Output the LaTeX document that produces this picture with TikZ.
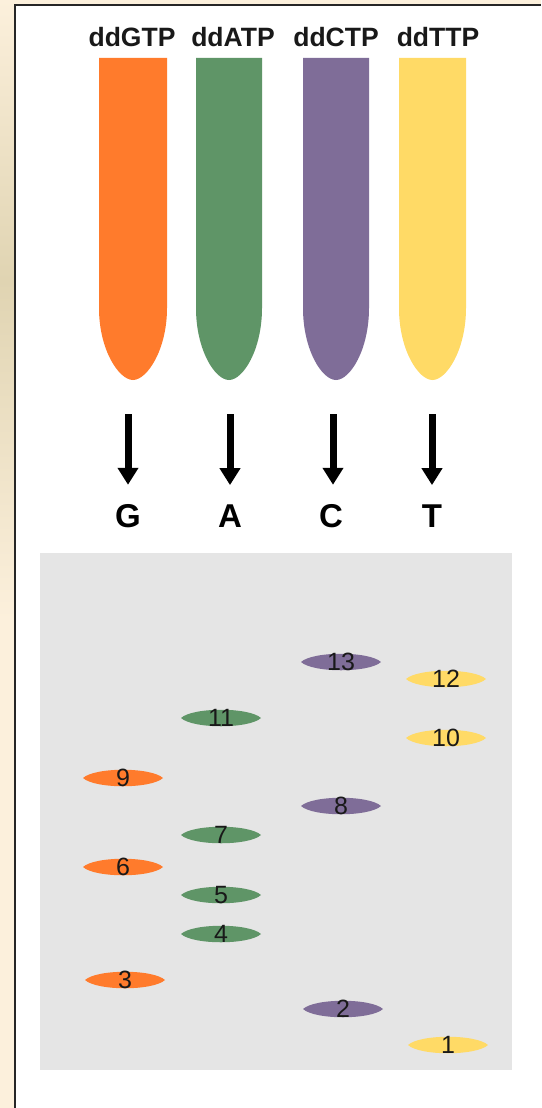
\documentclass[tikz,border=0pt]{standalone}
\usepackage{fontspec}
\setmainfont{Liberation Sans}
\usetikzlibrary{arrows.meta}
\definecolor{cream}{HTML}{FCF0DC}
\definecolor{tan}{HTML}{E0D4B2}
\definecolor{gGreen}{HTML}{5F9567}
\definecolor{gOrange}{HTML}{FF7B2C}
\definecolor{gPurple}{HTML}{7F6D98}
\definecolor{gYellow}{HTML}{FFDA66}
\definecolor{gelgray}{HTML}{E5E5E5}
\tikzset{
  tubelabel/.style={font=\bfseries\fontsize{26.5}{30}\selectfont, anchor=base, inner sep=0pt, text=black!90},
  baselabel/.style={font=\bfseries\fontsize{33}{36}\selectfont, anchor=base, inner sep=0pt},
  bandnum/.style={font=\fontsize{25}{27}\selectfont, inner sep=0pt, text=black!90},
  downarrow/.style={line width=7pt, -{Triangle[width=20pt,length=17pt]}, shorten >=19pt},
}
% a tube: straight sides with a rounded, slightly pointed bottom
\newcommand{\tubeshape}[3]{% left x, right x, colour
  \fill[#3] (#1,58) -- (#2,58) -- (#2,308)
    .. controls (#2,350) and ({(#1+#2)/2+14},380) .. ({(#1+#2)/2},380)
    .. controls ({(#1+#2)/2-14},380) and (#1,350) .. (#1,308) -- cycle;
}
% a band of the gel with its number
\newcommand{\gelband}[5]{% name, x, y, colour, number
  \fill[#4] (#2-40,#3) .. controls (#2-28,#3-11) and (#2+28,#3-11) .. (#2+40,#3)
    .. controls (#2+28,#3+11) and (#2-28,#3+11) .. cycle;
  \node[bandnum] (#1) at (#2,#3) {#5};
}
\begin{document}
\begin{tikzpicture}[x=1pt,y=-1pt]
\useasboundingbox (0,0) rectangle (541,1108);
% page background and frame
\fill[white] (0,0) rectangle (541,1108);
\shade[top color=cream, bottom color=tan] (0,0) rectangle (15,280);
\shade[top color=tan, bottom color=cream] (0,280) rectangle (15,620);
\fill[cream] (0,620) rectangle (15,1108);
\fill[cream] (0,0) rectangle (541,4.5);
\draw[line width=2pt, black!85] (15,1108) -- (15,5.5) -- (541,5.5);

% tubes
\tubeshape{99}{167}{gOrange}
\tubeshape{196}{262}{gGreen}
\tubeshape{303}{369}{gPurple}
\tubeshape{399}{466}{gYellow}

\node[tubelabel] (lG) at (132,47) {ddGTP};
\node[tubelabel] (lA) at (233,47) {ddATP};
\node[tubelabel] (lC) at (336,47) {ddCTP};
\node[tubelabel] (lT) at (438,47) {ddTTP};

% arrows to the bases
\node[baselabel] (G) at (128,527) {G};
\node[baselabel] (A) at (230,527) {A};
\node[baselabel] (C) at (331,527) {C};
\node[baselabel] (T) at (432,527) {T};
\coordinate (aG) at (128,414);
\coordinate (aA) at (230,414);
\coordinate (aC) at (333,414);
\coordinate (aT) at (432,414);
\draw[downarrow] (aG) -- (G.north -| aG);
\draw[downarrow] (aA) -- (A.north -| aA);
\draw[downarrow] (aC) -- (C.north -| aC);
\draw[downarrow] (aT) -- (T.north -| aT);

% gel
\fill[gelgray] (40,553) rectangle (512,1070);
\gelband{b13}{341}{662}{gPurple}{13}
\gelband{b12}{446}{679}{gYellow}{12}
\gelband{b11}{221}{718}{gGreen}{11}
\gelband{b10}{446}{738}{gYellow}{10}
\gelband{b9}{123}{778}{gOrange}{9}
\gelband{b8}{341}{806}{gPurple}{8}
\gelband{b7}{221}{835}{gGreen}{7}
\gelband{b6}{123}{867}{gOrange}{6}
\gelband{b5}{221}{895}{gGreen}{5}
\gelband{b4}{221}{934}{gGreen}{4}
\gelband{b3}{125}{980}{gOrange}{3}
\gelband{b2}{343}{1009}{gPurple}{2}
\gelband{b1}{448}{1045}{gYellow}{1}
\end{tikzpicture}
\end{document}
